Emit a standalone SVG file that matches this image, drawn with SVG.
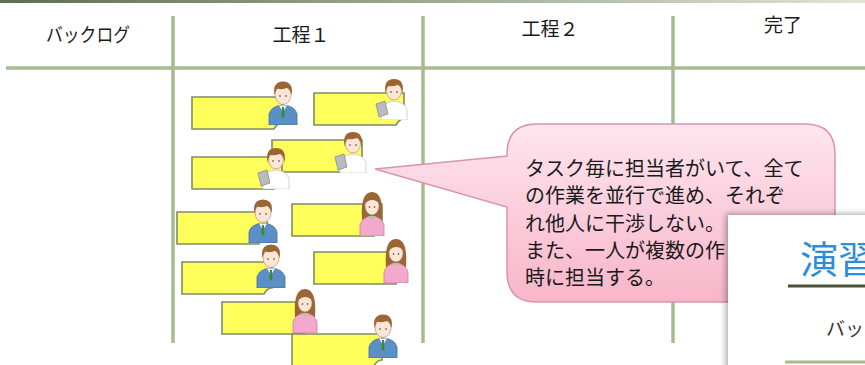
<svg xmlns="http://www.w3.org/2000/svg" width="865" height="365" viewBox="0 0 865 365">
  <style>
    .grid { stroke: #a7bb91; stroke-width: 3.5; fill: none; }
    .hdr { font-family: "Noto Sans CJK JP", "Noto Sans", sans-serif; font-size: 19px; fill: #1a1a1a; }
    .note { font-family: "Noto Sans CJK JP", "Noto Sans", sans-serif; font-size: 20px; fill: #1a1a1a; }
    .card { fill: #ffff5c; stroke: #7d8c68; stroke-width: 1.6; }
    .skin { fill: #fde6d6; stroke: #a78466; stroke-width: 0.6; }
    .hair { fill: #9c6534; }
  </style>
  <defs>
    <linearGradient id="topRule" x1="0" y1="0" x2="1" y2="0">
      <stop offset="0" stop-color="#5f6d50"/>
      <stop offset="1" stop-color="#dfe6d4"/>
    </linearGradient>
    <linearGradient id="bubbleFill" x1="0" y1="0" x2="0" y2="1">
      <stop offset="0" stop-color="#fee6ee"/>
      <stop offset="1" stop-color="#f8b5ca"/>
    </linearGradient>
    <filter id="slideShadow" x="-20%" y="-20%" width="140%" height="140%">
      <feDropShadow dx="-2" dy="-1" stdDeviation="3" flood-color="#000" flood-opacity="0.35"/>
    </filter>
    <!-- sticky task card with curled lower-right corner -->
    <path id="cardShape" d="M0 0 H90 V26 Q85 26 82 32 H0 Z"/>
    <!-- man in blue suit -->
    <symbol id="man" viewBox="0 0 30 46" width="30" height="46">
      <path d="M1 46 V35 Q3 27 15 26 Q27 27 29 35 V46 Z" fill="#5b8fc5" stroke="#3f6c9b" stroke-width="0.8"/>
      <path d="M11 26.5 L15 33 L19 26.5 Z" fill="#ffffff"/>
      <path d="M14 28 H16 L16.6 37 L15 39 L13.4 37 Z" fill="#3a8a3a"/>
      <ellipse class="skin" cx="15" cy="16" rx="8" ry="9.5"/>
      <path class="hair" d="M6.5 16 Q4 3 15 2.5 Q26 3 23.5 16 Q22 10 19 9 Q14 11 9 9.5 Q7.5 12 6.5 16 Z"/>
      <circle cx="12" cy="17" r="0.8" fill="#333"/>
      <circle cx="18" cy="17" r="0.8" fill="#333"/>
    </symbol>
    <!-- nurse in white holding a tablet -->
    <symbol id="nurse" viewBox="0 0 34 42" width="34" height="42">
      <path d="M6 42 V32 Q8 24 19 23 Q30 24 32 32 V42 Z" fill="#ffffff" stroke="#c8c8c8" stroke-width="0.8"/>
      <ellipse class="skin" cx="19" cy="13" rx="7.5" ry="9"/>
      <path class="hair" d="M10.5 16 Q8 1 19 1 Q30 1 27.5 16 Q27 9 23 7 Q17 9 13 8 Q11 11 10.5 16 Z"/>
      <path d="M1 26 L10 23 L13 36 L4 39 Z" fill="#b9bcbe" stroke="#8a8d90" stroke-width="0.8"/>
      <circle cx="16" cy="14" r="0.8" fill="#333"/>
      <circle cx="22" cy="14" r="0.8" fill="#333"/>
    </symbol>
    <!-- woman in pink -->
    <symbol id="woman" viewBox="0 0 26 46" width="26" height="46">
      <path class="hair" d="M3 30 Q1 2 13 2 Q25 2 23 30 Z"/>
      <path d="M1 46 V35 Q3 27 13 26 Q23 27 25 35 V46 Z" fill="#f2a9cd" stroke="#c77fa4" stroke-width="0.8"/>
      <path d="M9 26 Q13 31 17 26 Z" fill="#a7c690"/>
      <ellipse class="skin" cx="13" cy="16" rx="7" ry="9"/>
      <path class="hair" d="M6 14 Q7 6 13 6 Q19 6 20 14 Q18 10 13 10 Q9 10 6 14 Z"/>
      <circle cx="10.5" cy="17" r="0.8" fill="#333"/>
      <circle cx="15.5" cy="17" r="0.8" fill="#333"/>
    </symbol>
  </defs>

  <rect width="865" height="365" fill="#ffffff"/>
  <rect x="0" y="0" width="865" height="3" fill="url(#topRule)"/>

  <!-- board grid -->
  <g id="board-grid">
    <line class="grid" x1="6" y1="68" x2="865" y2="68"/>
    <line class="grid" x1="173" y1="16" x2="173" y2="343"/>
    <line class="grid" x1="423" y1="16" x2="423" y2="343"/>
    <line class="grid" x1="673" y1="16" x2="673" y2="343"/>
  </g>

  <!-- column headers -->
  <g id="headers">
    <text class="hdr" x="88" y="42" text-anchor="middle" textLength="84" lengthAdjust="spacingAndGlyphs">バックログ</text>
    <text class="hdr" x="301" y="42" text-anchor="middle">工程１</text>
    <text class="hdr" x="550" y="36" text-anchor="middle">工程２</text>
    <text class="hdr" x="783" y="32" text-anchor="middle">完了</text>
  </g>

  <!-- task cards with assignees -->
  <g id="task-1">
    <use href="#cardShape" class="card" transform="translate(192,97)"/>
    <use href="#man" x="268" y="79"/>
  </g>
  <g id="task-2">
    <use href="#cardShape" class="card" transform="translate(314,93)"/>
    <use href="#nurse" x="375" y="78"/>
  </g>
  <g id="task-3">
    <use href="#cardShape" class="card" transform="translate(272,140)"/>
    <use href="#nurse" x="334" y="131"/>
  </g>
  <g id="task-4">
    <use href="#cardShape" class="card" transform="translate(192,157)"/>
    <use href="#nurse" x="257" y="147"/>
  </g>
  <g id="task-5">
    <use href="#cardShape" class="card" transform="translate(177,212)"/>
    <use href="#man" x="248" y="197"/>
  </g>
  <g id="task-6">
    <use href="#cardShape" class="card" transform="translate(292,204)"/>
    <use href="#woman" x="359" y="190"/>
  </g>
  <g id="task-7">
    <use href="#cardShape" class="card" transform="translate(182,262)"/>
    <use href="#man" x="256" y="242"/>
  </g>
  <g id="task-8">
    <use href="#cardShape" class="card" transform="translate(314,252)"/>
    <use href="#woman" x="383" y="237"/>
  </g>
  <g id="task-9">
    <use href="#cardShape" class="card" transform="translate(222,302)"/>
    <use href="#woman" x="292" y="287"/>
  </g>
  <g id="task-10">
    <use href="#cardShape" class="card" transform="translate(292,334)"/>
    <use href="#man" x="368" y="312"/>
  </g>

  <!-- speech bubble -->
  <g id="callout">
    <path d="M537 124 H805 Q835 124 835 154 V272 Q835 302 805 302 H537 Q507 302 507 272 V207 L375 169 L507 156 V154 Q507 124 537 124 Z" fill="url(#bubbleFill)" stroke="#d895ad" stroke-width="1.5"/>
    <text class="note" x="525" y="176">タスク毎に担当者がいて、全て</text>
    <text class="note" x="525" y="203">の作業を並行で進め、それぞ</text>
    <text class="note" x="525" y="231">れ他人に干渉しない。</text>
    <text class="note" x="525" y="258">また、一人が複数の作</text>
    <text class="note" x="525" y="285">時に担当する。</text>
  </g>

  <!-- overlapping slide thumbnail -->
  <g id="slide">
    <rect x="728" y="215" width="150" height="160" fill="#ffffff" filter="url(#slideShadow)"/>
    <text x="800" y="273" font-family="Noto Sans CJK JP, Noto Sans, sans-serif" font-size="38" fill="#2b8ed8">演習</text>
    <line x1="788" y1="286" x2="865" y2="286" stroke="#4b5232" stroke-width="3"/>
    <text x="826" y="336" font-family="Noto Sans CJK JP, Noto Sans, sans-serif" font-size="19" fill="#3d3436">バッ</text>
    <line x1="785" y1="362" x2="865" y2="362" stroke="#a7bb91" stroke-width="3"/>
  </g>
</svg>
